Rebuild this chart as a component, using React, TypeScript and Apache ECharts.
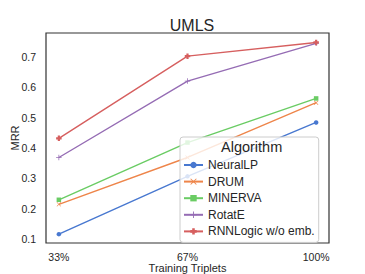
import React, { useEffect, useRef } from "react";
import * as echarts from "echarts";

const categories = ["33%", "67%", "100%"];
const neuralLP = [0.117, 0.307, 0.484];
const drum = [0.215, 0.369, 0.549];
const minerva = [0.23, 0.418, 0.563];
const rotatE = [0.369, 0.62, 0.744];
const rnnLogic = [0.432, 0.702, 0.747];
const yTicks = [0.1, 0.2, 0.3, 0.4, 0.5, 0.6, 0.7];

const FONT = "Liberation Sans, Arial, sans-serif";

const SYM_X = "path://M1,0L5,4L9,0L10,1L6,5L10,9L9,10L5,6L1,10L0,9L4,5L0,1Z";
const SYM_PLUS = "path://M4.3,0H5.7V4.3H10V5.7H5.7V10H4.3V5.7H0V4.3H4.3Z";
const SYM_P = "path://M3,0H7V3H10V7H7V10H3V7H0V3H3Z";

export default function App() {
  const ref = useRef<HTMLDivElement>(null);
  useEffect(() => {
    if (!ref.current) return;
    const chart = echarts.init(ref.current, null, { renderer: "svg" });
    const mk = (name: string, data: number[], color: string, symbol: string, size: number) => ({
      name,
      type: "line",
      data: data.map((v, i) => [i, v]),
      symbol,
      symbolSize: size,
      showSymbol: true,
      lineStyle: { width: 1.4, color },
      itemStyle: { color },
      z: 2,
    });
    chart.setOption({
      animation: false,
      backgroundColor: "#ffffff",
      title: {
        text: "UMLS",
        left: 187,
        textAlign: "center",
        top: 12,
        textStyle: { fontFamily: FONT, fontSize: 16, fontWeight: "normal", color: "#262626" },
      },
      grid: {
        left: 46,
        right: 36,
        top: 33,
        bottom: 31,
        show: true,
        borderColor: "#333333",
        borderWidth: 1.2,
        backgroundColor: "#ffffff",
        containLabel: false,
        outerBoundsMode: "none",
      },
      xAxis: {
        type: "value",
        min: -0.1,
        max: 2.1,
        name: "Training Triplets",
        nameLocation: "middle",
        nameGap: 19,
        nameMoveOverlap: false,
        nameTextStyle: { fontFamily: FONT, fontSize: 11, color: "#262626" },
        axisLine: { show: false },
        axisTick: { show: false },
        splitLine: { show: false },
        axisLabel: {
          customValues: [0, 1, 2],
          formatter: (v: number) => categories[Math.round(v)] ?? "",
          fontFamily: FONT,
          fontSize: 10.5,
          color: "#262626",
          margin: 8,
        },
      },
      yAxis: {
        type: "value",
        min: 0.088,
        max: 0.778,
        name: "MRR",
        nameLocation: "middle",
        nameGap: 26,
        nameMoveOverlap: false,
        nameTextStyle: { fontFamily: FONT, fontSize: 11, color: "#262626" },
        axisLine: { show: false },
        axisTick: { show: false },
        splitLine: { show: false },
        axisLabel: {
          customValues: yTicks,
          formatter: (v: number) => v.toFixed(1),
          fontFamily: FONT,
          fontSize: 10.5,
          color: "#262626",
          margin: 10,
        },
      },
      legend: {
        orient: "vertical",
        left: 180,
        top: 137,
        padding: [21, 4, 4, 3],
        itemWidth: 19,
        itemHeight: 8,
        itemGap: 2.6,
        backgroundColor: "rgba(255,255,255,0.8)",
        borderColor: "#cccccc",
        borderWidth: 1,
        borderRadius: 3,
        textStyle: { fontFamily: FONT, fontSize: 12, color: "#262626", lineHeight: 14 },
        data: ["NeuralLP", "DRUM", "MINERVA", "RotatE", "RNNLogic w/o emb."],
      },
      graphic: [
        {
          type: "text",
          left: 253 - 32,
          top: 139,
          z: 100,
          style: { text: "Algorithm", fontFamily: FONT, fontSize: 14.5, fill: "#262626" },
        },
      ],
      series: [
        mk("NeuralLP", neuralLP, "#4878d0", "circle", 4.5),
        mk("DRUM", drum, "#ee854a", SYM_X, 4.5),
        mk("MINERVA", minerva, "#6acc64", "rect", 4.5),
        mk("RotatE", rotatE, "#956cb4", SYM_PLUS, 5.5),
        mk("RNNLogic w/o emb.", rnnLogic, "#d65f5f", SYM_P, 5.5),
      ],
    });
    return () => chart.dispose();
  }, []);
  return <div ref={ref} style={{ width: 365, height: 274, position: "absolute", left: 0, top: 0 }} />;
}
